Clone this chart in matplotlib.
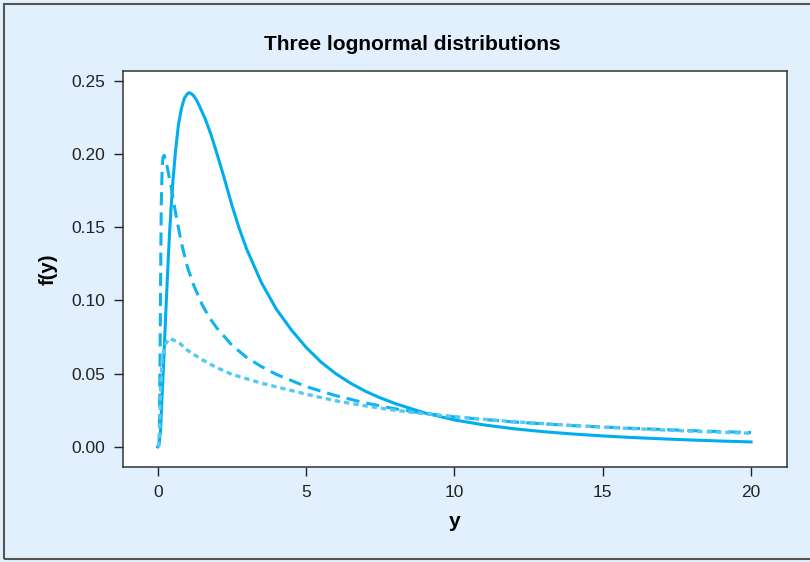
import matplotlib
matplotlib.use("Agg")
import matplotlib.pyplot as plt
from matplotlib.patches import Rectangle

plt.rcParams["font.family"] = ["Liberation Sans", "DejaVu Sans"]

# values
y_solid = [0, 0.05, 0.1, 0.15, 0.2, 0.25, 0.3, 0.35, 0.4, 0.45, 0.5, 0.6, 0.7, 0.8, 0.9,
           1.0, 1.05, 1.1, 1.2, 1.3, 1.4, 1.6, 1.8, 2.0, 2.25, 2.5, 2.75, 3.0, 3.5, 4.0,
           4.5, 5.0, 5.5, 6.0, 6.5, 7.0, 7.5, 8.0, 9.0, 10.0, 11.0, 12.0, 13.0, 14.0,
           15.0, 16.0, 17.0, 18.0, 19.0, 20.0]
f_solid = [0, 0.002, 0.012, 0.036, 0.057, 0.081, 0.104, 0.126, 0.146, 0.163, 0.178, 0.202,
           0.220, 0.231, 0.238, 0.241, 0.2418, 0.2415, 0.240, 0.237, 0.233, 0.224, 0.213,
           0.200, 0.183, 0.165, 0.149, 0.135, 0.112, 0.094, 0.080, 0.068, 0.058, 0.050,
           0.0435, 0.038, 0.0335, 0.0296, 0.0232, 0.0184, 0.0150, 0.0124, 0.0104, 0.0088,
           0.0075, 0.0064, 0.0055, 0.0047, 0.0040, 0.0034]

y_dashed = [0, 0.05, 0.08, 0.1, 0.12, 0.15, 0.18, 0.22, 0.27, 0.35, 0.45, 0.6, 0.8, 1.0,
            1.2, 1.5, 1.75, 2.0, 2.5, 3.0, 3.5, 4.0, 5.0, 6.0, 7.0, 8.0, 9.0, 10.0, 12.0,
            14.0, 16.0, 18.0, 20.0]
f_dashed = [0, 0.002, 0.06, 0.12, 0.165, 0.19, 0.198, 0.199, 0.196, 0.188, 0.178, 0.160,
            0.139, 0.123, 0.111, 0.097, 0.088, 0.081, 0.0695, 0.061, 0.0548, 0.0495,
            0.0412, 0.0350, 0.0300, 0.0260, 0.0229, 0.0205, 0.0170, 0.0145, 0.0127,
            0.0111, 0.0098]

y_dotted = [0, 0.05, 0.1, 0.15, 0.25, 0.4, 0.7, 1.0, 1.5, 2.0, 2.5, 3.0, 3.5, 4.0, 5.0,
            6.0, 7.0, 8.0, 9.0, 10.0, 12.0, 14.0, 16.0, 18.0, 20.0]
f_dotted = [0, 0.002, 0.04, 0.06, 0.070, 0.074, 0.0715, 0.066, 0.0595, 0.054, 0.0495,
            0.0465, 0.0435, 0.041, 0.036, 0.0315, 0.028, 0.025, 0.0226, 0.0206, 0.0172,
            0.0146, 0.0125, 0.0107, 0.0093]

x_ticks = [0, 5, 10, 15, 20]
y_ticks = [0.00, 0.05, 0.10, 0.15, 0.20, 0.25]

bg = "#E1F0FC"
fig = plt.figure(figsize=(8.1, 5.62), dpi=100, facecolor=bg)
fig.patches.append(Rectangle((0.005, 0.005), 1.1, 0.988, transform=fig.transFigure,
                             fill=False, edgecolor="#555555", linewidth=1.5))
ax = fig.add_axes([0.1522, 0.1696, 0.819, 0.7041])
ax.set_facecolor("white")

ax.plot(y_solid, f_solid, color="#00AEEF", lw=2.2)
ax.plot(y_dashed, f_dashed, color="#0DB4EE", lw=2.2, dashes=(4.3, 2.3))
ax.plot(y_dotted, f_dotted, color="#55C8F3", lw=2.4, dashes=(1.6, 1.2))

ax.set_xlim(-1.16, 21.2)
ax.set_ylim(-0.0135, 0.2566)
ax.set_xticks(x_ticks)
ax.set_yticks(y_ticks)
ax.set_xticklabels([str(t) for t in x_ticks])
ax.set_yticklabels([f"{t:.2f}" for t in y_ticks])
ax.tick_params(direction="out", length=6.5, width=1, colors="#222222", labelsize=12.5,
               pad=6.5)
for s in ax.spines.values():
    s.set_color("#333333")
    s.set_linewidth(1.1)

ax.set_xlabel("y", fontsize=15, fontweight="bold", labelpad=9)
ax.set_ylabel("f(y)", fontsize=14.5, fontweight="bold", labelpad=10)
fig.text(412 / 810, 1 - 45 / 562, "Three lognormal distributions", ha="center",
         va="center", fontsize=15, fontweight="bold")

fig.savefig("out.png", dpi=100, facecolor=bg)
plt.close(fig)
